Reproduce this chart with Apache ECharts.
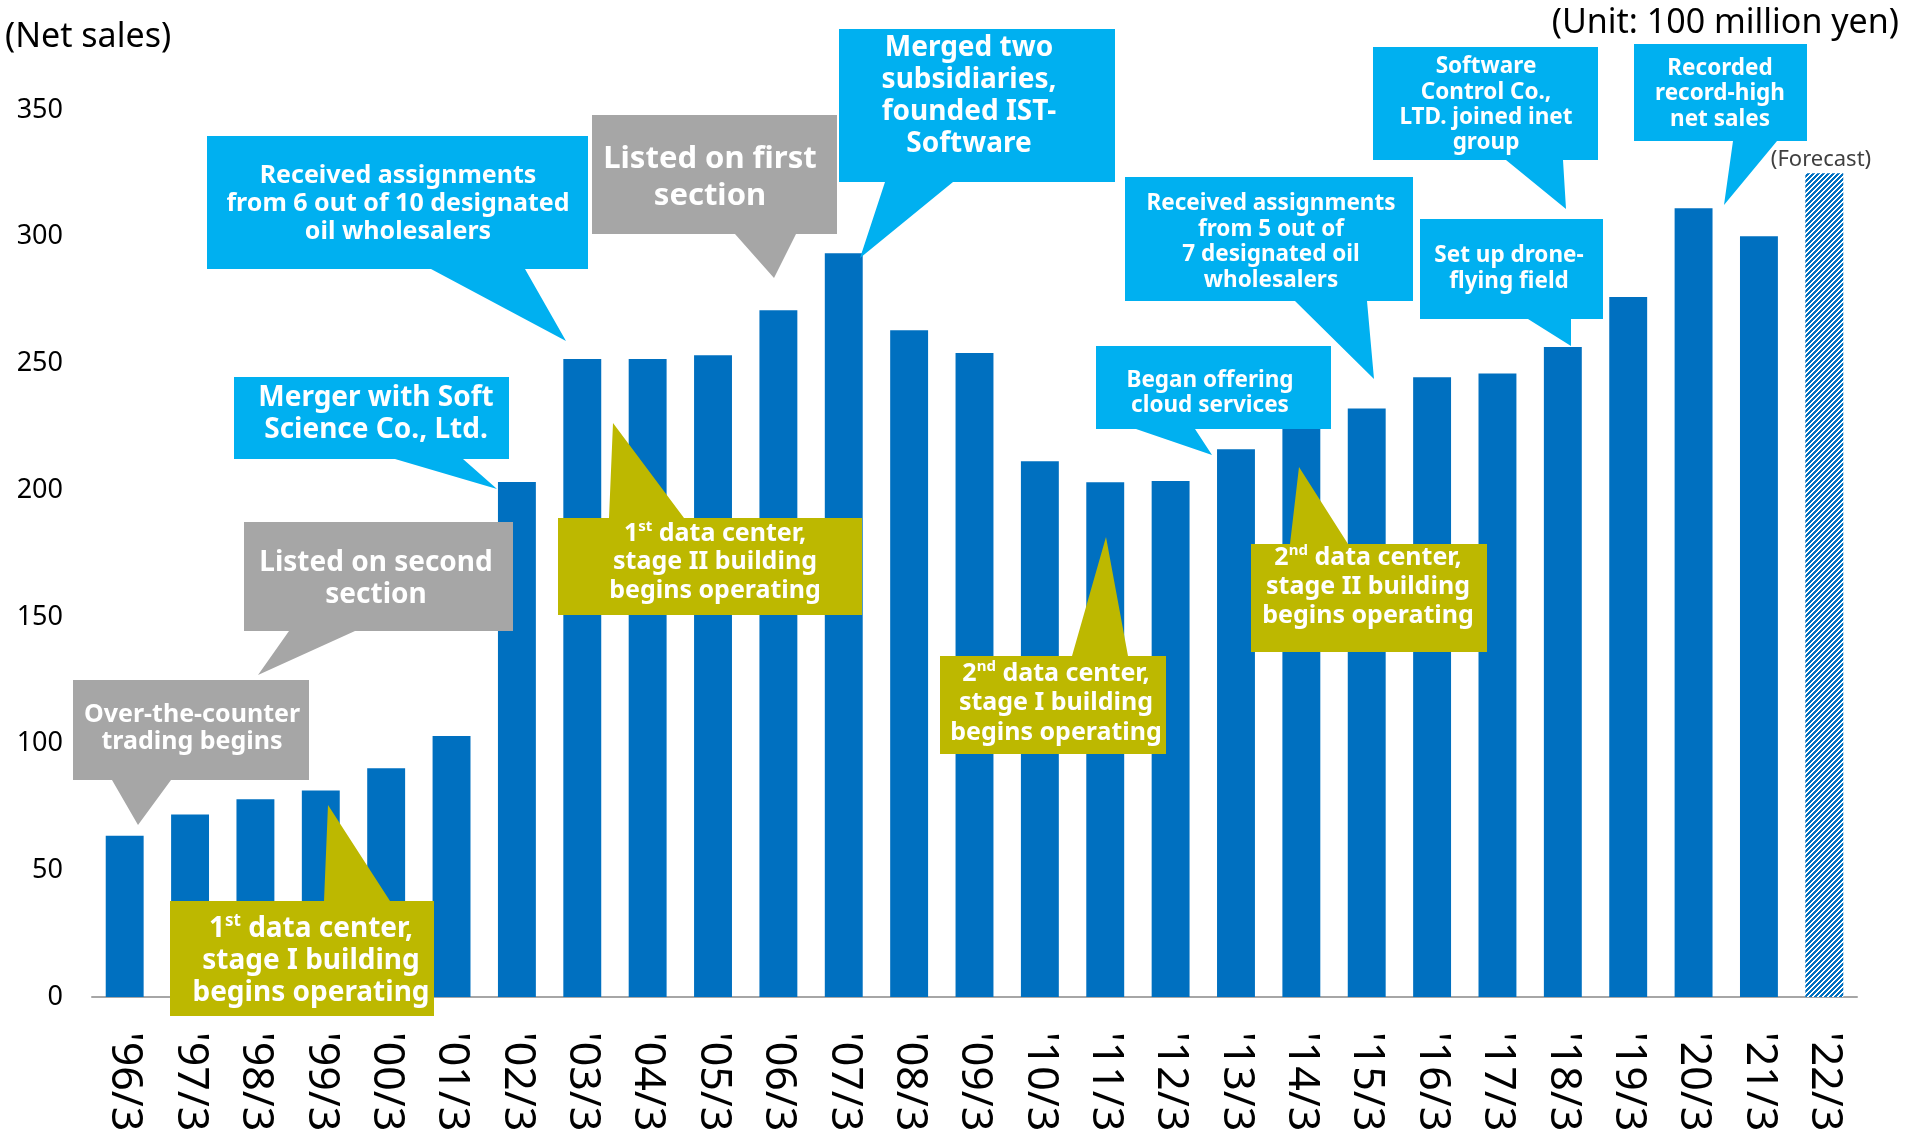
<!DOCTYPE html>
<html>
<head>
<meta charset="utf-8">
<title>Net sales</title>
<script src="https://cdn.jsdelivr.net/npm/echarts@6.0.0/dist/echarts.min.js"></script>
<style>
body { margin: 0; background: #fff; }
#main { width: 1907px; height: 1137px; }
</style>
</head>
<body>
<div id="main"></div>
<script>
// 年度（3月期）
var categories = ["'96/3", "'97/3", "'98/3", "'99/3", "'00/3", "'01/3", "'02/3", "'03/3", "'04/3",
	"'05/3", "'06/3", "'07/3", "'08/3", "'09/3", "'10/3", "'11/3", "'12/3", "'13/3", "'14/3",
	"'15/3", "'16/3", "'17/3", "'18/3", "'19/3", "'20/3", "'21/3", "'22/3"];
// 売上高実績（億円）
var actualSales = [63.6, 72, 78, 81.5, 90.3, 103, 203.2, 251.7, 251.7, 253.2, 271, 293.5, 263.1,
	254.1, 211.4, 203.1, 203.6, 216.1, 224.5, 232.2, 244.5, 246, 256.5, 276.2, 311.2, 300.2];
// 予想
var forecastSales = 325;
var yTicks = [0, 350, 50];

var BAR = '#0070C0';
var BLUE = '#00B0F0';
var GRAY = '#A6A6A6';
var OLIVE = '#BDB800';
var FONT = '"Noto Sans", "DejaVu Sans", sans-serif';

// 吹き出し（位置はピクセル）
var callouts = [
	{ text: 'Over-the-counter\ntrading begins', color: GRAY, box: [73, 680, 309, 780], side: 'bottom', base: [112, 171], tip: [138, 825], size: 25, lh: 27, tx: 192, ty: 728 },
	{ text: 'Listed on second\nsection', color: GRAY, box: [244, 522, 513, 631], side: 'bottom', base: [289, 355], tip: [258, 675], size: 28, lh: 32, tx: 376, ty: 579 },
	{ text: 'Merger with Soft\nScience Co., Ltd.', color: BLUE, box: [234, 377, 509, 459], side: 'bottom', base: [395, 463], tip: [497, 489], size: 28, lh: 32, tx: 376, ty: 414 },
	{ text: 'Received assignments\nfrom 6 out of 10 designated\noil wholesalers', color: BLUE, box: [207, 136, 588, 269], side: 'bottom', base: [431, 525], tip: [566, 341], size: 25, lh: 28, tx: 398, ty: 204 },
	{ text: 'Listed on first\nsection', color: GRAY, box: [592, 115, 837, 234], side: 'bottom', base: [735, 796], tip: [774, 278], size: 31, lh: 37, tx: 710, ty: 178 },
	{ text: 'Merged two\nsubsidiaries,\nfounded IST-\nSoftware', color: BLUE, box: [839, 29, 1115, 182], side: 'bottom', base: [885, 953], tip: [860, 258], size: 28, lh: 32, tx: 969, ty: 96 },
	{ text: 'Began offering\ncloud services', color: BLUE, box: [1096, 346, 1331, 429], side: 'bottom', base: [1136, 1195], tip: [1212, 455], size: 22.5, lh: 25, tx: 1210, ty: 393 },
	{ text: 'Received assignments\nfrom 5 out of\n7 designated oil\nwholesalers', color: BLUE, box: [1125, 177, 1413, 301], side: 'bottom', base: [1295, 1367], tip: [1374, 379], size: 22.5, lh: 25.5, tx: 1271, ty: 242 },
	{ text: 'Software\nControl Co.,\nLTD. joined inet\ngroup', color: BLUE, box: [1373, 47, 1598, 160], side: 'bottom', base: [1506, 1563], tip: [1566, 209], size: 22.5, lh: 25.3, tx: 1486, ty: 105 },
	{ text: 'Set up drone-\nflying field', color: BLUE, box: [1420, 219, 1603, 319], side: 'bottom', base: [1528, 1571], tip: [1571, 346], size: 22.5, lh: 26, tx: 1509, ty: 269 },
	{ text: 'Recorded\nrecord-high\nnet sales', color: BLUE, box: [1634, 44, 1807, 141], side: 'bottom', base: [1733, 1777], tip: [1724, 205], size: 22.5, lh: 25.5, tx: 1720, ty: 94 },
	{ text: '1{sup|st} data center,\nstage I building\nbegins operating', color: OLIVE, box: [170, 901, 434, 1016], side: 'top', base: [324, 390], tip: [328, 805], size: 28, lh: 32, tx: 311, ty: 961 },
	{ text: '1{sup|st} data center,\nstage II building\nbegins operating', color: OLIVE, box: [558, 518, 862, 615], side: 'top', base: [609, 684], tip: [613, 423], size: 25, lh: 28.5, tx: 715, ty: 562 },
	{ text: '2{sup|nd} data center,\nstage I building\nbegins operating', color: OLIVE, box: [940, 656, 1166, 754], side: 'top', base: [1072, 1128], tip: [1106, 537], size: 25, lh: 29.5, tx: 1056, ty: 703 },
	{ text: '2{sup|nd} data center,\nstage II building\nbegins operating', color: OLIVE, box: [1251, 544, 1487, 652], side: 'top', base: [1290, 1348], tip: [1299, 467], size: 25, lh: 29, tx: 1368, ty: 587 }
];

var chart = echarts.init(document.getElementById('main'));

/**
 * 予想用の斜線パターン（5px周期、ピクセル単位）
 */
function makeHatch() {
	var n = 5;
	var c = document.createElement('canvas');
	c.width = n;
	c.height = n;
	var ctx = c.getContext('2d');
	ctx.fillStyle = '#fff';
	ctx.fillRect(0, 0, n, n);
	ctx.fillStyle = BAR;
	for (var x = 0; x < n; x++) {
		for (var y = 0; y < n; y++) {
			if ((x + y) % n < 3) {
				ctx.fillRect(x, y, 1, 1);
			}
		}
	}
	return c;
}

/**
 * 吹き出しの多角形
 */
function calloutPoints(c) {
	var x1 = c.box[0], y1 = c.box[1], x2 = c.box[2], y2 = c.box[3];
	if (c.side === 'bottom') {
		return [[x1, y1], [x2, y1], [x2, y2], [c.base[1], y2], c.tip, [c.base[0], y2], [x1, y2]];
	}
	return [[x1, y1], [c.base[0], y1], c.tip, [c.base[1], y1], [x2, y1], [x2, y2], [x1, y2]];
}

function buildGraphics() {
	var list = [];
	for (var i = 0; i < callouts.length; i++) {
		var c = callouts[i];
		list.push({
			type: 'polygon',
			z: 100,
			shape: { points: calloutPoints(c) },
			style: { fill: c.color }
		});
		list.push({
			type: 'text',
			z: 101,
			x: c.tx,
			y: c.ty,
			style: {
				text: c.text,
				fill: '#fff',
				fontSize: c.size,
				fontWeight: 'bold',
				fontFamily: FONT,
				lineHeight: c.lh,
				align: 'center',
				verticalAlign: 'middle',
				textAlign: 'center',
				textVerticalAlign: 'middle',
				rich: {
					sup: {
						fill: '#fff',
						fontSize: Math.round(c.size * 0.6),
						fontWeight: 'bold',
						fontFamily: FONT,
						lineHeight: c.lh,
						verticalAlign: 'top'
					}
				}
			}
		});
	}
	list.push({
		type: 'text', z: 101, x: 5, y: 37,
		style: { text: '(Net sales)', fill: '#000', fontSize: 34, fontFamily: FONT, align: 'left', verticalAlign: 'middle', textAlign: 'left', textVerticalAlign: 'middle' }
	});
	list.push({
		type: 'text', z: 101, x: 1899, y: 23,
		style: { text: '(Unit: 100 million yen)', fill: '#000', fontSize: 34, fontFamily: FONT, align: 'right', verticalAlign: 'middle', textAlign: 'right', textVerticalAlign: 'middle' }
	});
	list.push({
		type: 'text', z: 101, x: 1821, y: 160,
		style: { text: '(Forecast)', fill: '#404040', fontSize: 22, fontFamily: FONT, align: 'center', verticalAlign: 'middle', textAlign: 'center', textVerticalAlign: 'middle' }
	});
	return list;
}

var barData = actualSales.slice();
barData.push({
	value: forecastSales,
	itemStyle: { color: { image: makeHatch(), repeat: 'repeat' } }
});

var option = {
	animation: false,
	backgroundColor: '#fff',
	grid: {
		left: 92,
		right: 50,
		top: 110,
		bottom: 140
	},
	xAxis: {
		type: 'category',
		data: categories,
		axisLine: { lineStyle: { color: '#A6A6A6', width: 2 } },
		axisTick: { show: false },
		axisLabel: {
			interval: 0,
			rotate: -90,
			margin: 35,
			color: '#000',
			fontSize: 43,
			fontFamily: FONT
		}
	},
	yAxis: {
		type: 'value',
		min: yTicks[0],
		max: yTicks[1],
		interval: yTicks[2],
		splitLine: { show: false },
		axisLine: { show: false },
		axisTick: { show: false },
		axisLabel: {
			margin: 29,
			color: '#000',
			fontSize: 27,
			fontFamily: FONT
		}
	},
	series: [{
		name: 'Net sales',
		type: 'bar',
		barWidth: '58%',
		itemStyle: { color: BAR },
		data: barData
	}],
	graphic: buildGraphics()
};

chart.setOption(option);
</script>
</body>
</html>
